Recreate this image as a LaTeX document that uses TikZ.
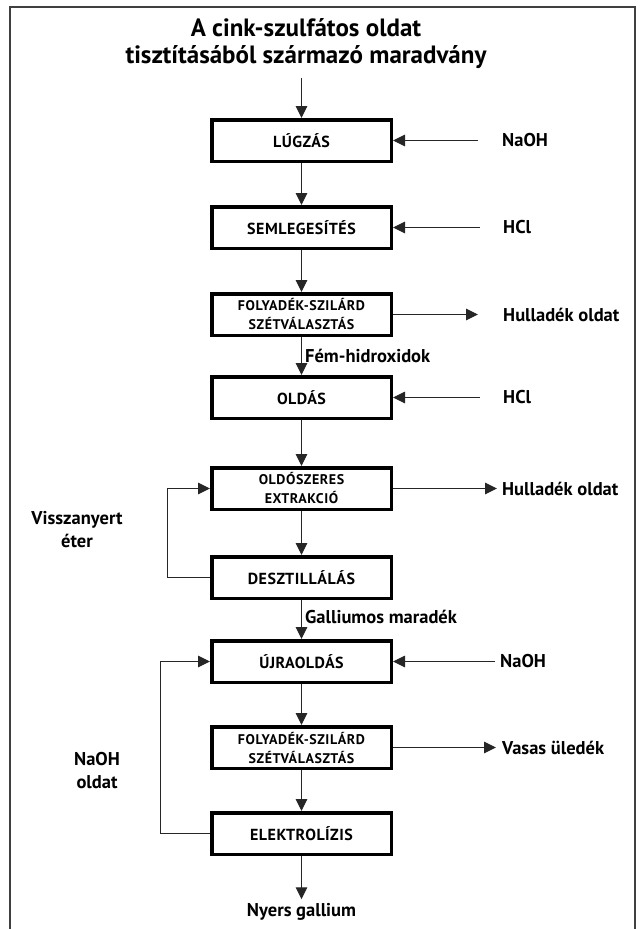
\documentclass[tikz,border=0pt]{standalone}
\usepackage{fontspec}
\setmainfont{PT Sans}
\usetikzlibrary{arrows.meta}
\begin{document}
\begin{tikzpicture}[x=1pt,y=-1pt,
  proc/.style={draw=black, line width=3.5pt, minimum width=179.5pt, minimum height=41.5pt,
    inner sep=0pt, align=center, font=\bfseries\fontsize{16}{18}\selectfont\addfontfeature{LetterSpace=3}},
  proctwo/.style={proc, font=\bfseries\fontsize{14}{19}\selectfont\addfontfeature{LetterSpace=4}},
  flow/.style={draw=black!85, line width=1pt, -{Triangle[length=12pt,width=11.5pt]}},
  lab/.style={font=\bfseries\fontsize{18.5}{23}\selectfont, inner sep=0pt, align=center},
  title/.style={font=\bfseries\fontsize{25}{27}\selectfont, inner sep=0pt, align=center},
]
\useasboundingbox (0,0) rectangle (640,929);
\draw[line width=1.2pt, black!75] (10,929) -- (10,7) -- (635,7) -- (635,929);

% title
\node[title] (title) at (306,44) {A cink-szulfátos oldat\\tisztításából származó maradvány};
\coordinate (tstart) at (301.5,78);

% process boxes
\node[proc] (lug) at (301.5,140.5) {LÚGZÁS};
\node[proc] (sem) at (301.5,227.5) {SEMLEGESÍTÉS};
\node[proctwo] (fsz1) at (301.5,314.5) {FOLYADÉK-SZILÁRD\\SZÉTVÁLASZTÁS};
\node[proc] (old) at (301.5,397.5) {OLDÁS};
\node[proctwo] (ext) at (301.5,488.5) {OLDÓSZERES\\EXTRAKCIÓ};
\node[proc] (desz) at (301.5,577.5) {DESZTILLÁLÁS};
\node[proc] (ujra) at (301.5,661.5) {ÚJRAOLDÁS};
\node[proctwo] (fsz2) at (301.5,747.5) {FOLYADÉK-SZILÁRD\\SZÉTVÁLASZTÁS};
\node[proc] (elek) at (301.5,833.5) {ELEKTROLÍZIS};

% side labels
\node[lab, anchor=west] (naoh1) at (502,140.5) {NaOH};
\node[lab, anchor=west] (hcl1) at (503,227.5) {HCl};
\node[lab, anchor=west] (hull1) at (503,314.5) {Hulladék oldat};
\node[lab, anchor=west] (hcl2) at (503,397.5) {HCl};
\node[lab, anchor=west] (hull2) at (502,488.5) {Hulladék oldat};
\node[lab, anchor=west] (naoh2) at (500,661.5) {NaOH};
\node[lab, anchor=west] (vasas) at (502,747.5) {Vasas üledék};
\node[lab, anchor=west] (fem) at (305,356) {Fém-hidroxidok};
\node[lab, anchor=west] (gall) at (305,617) {Galliumos maradék};
\node[lab] (nyers) at (301.5,912) {Nyers gallium};
\node[lab] (vissza) at (77,530) {Visszanyert\\éter};
\node[lab] (naohold) at (97,771) {NaOH\\oldat};

% main flow
\draw[flow] (tstart) -- (lug.north);
\draw[flow] (lug.south) -- (sem.north);
\draw[flow] (sem.south) -- (fsz1.north);
\draw[flow] (fsz1.south) -- (old.north);
\draw[flow] (old.south) -- (ext.north);
\draw[flow] (ext.south) -- (desz.north);
\draw[flow] (desz.south) -- (ujra.north);
\draw[flow] (ujra.south) -- (fsz2.north);
\draw[flow] (fsz2.south) -- (elek.north);
\draw[flow, shorten >=4pt] (elek.south) -- (nyers.north);

% inputs
\draw[flow, shorten <=24pt] (naoh1.west) -- (lug.east);
\draw[flow, shorten <=23pt] (hcl1.west) -- (sem.east);
\draw[flow, shorten <=23pt] (hcl2.west) -- (old.east);
\draw[flow, shorten <=5pt] (naoh2.west) -- (ujra.east);

% outputs
\draw[flow, shorten >=25pt] (fsz1.east) -- (hull1.west);
\draw[flow, shorten >=5pt] (ext.east) -- (hull2.west);
\draw[flow, shorten >=6pt] (fsz2.east) -- (vasas.west);

% recycle loops
\coordinate (loopa) at (167,0);
\coordinate (loopb) at (160,0);
\draw[flow] (desz.west) -- (desz.west -| loopa) |- (ext.west);
\draw[flow] (elek.west) -- (elek.west -| loopb) |- (ujra.west);
\end{tikzpicture}
\end{document}
